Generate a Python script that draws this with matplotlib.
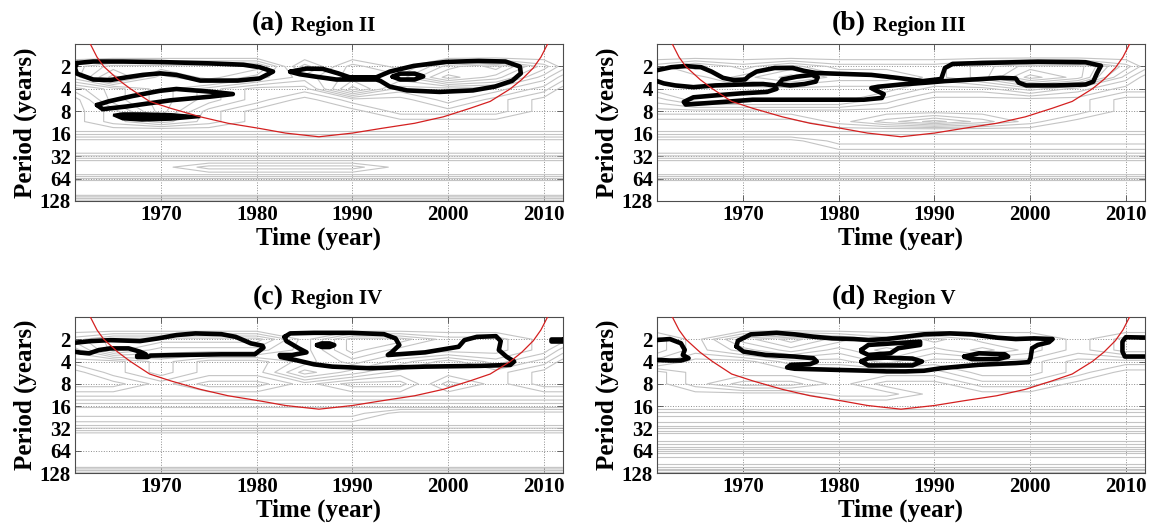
import numpy as np
import matplotlib.pyplot as plt

plt.rcParams['font.family'] = ['Liberation Serif', 'DejaVu Serif']
plt.rcParams['font.weight'] = 'bold'
plt.rcParams['axes.labelweight'] = 'bold'

# coarse grid of wavelet power
grid_year = [1961, 1965, 1970, 1975, 1980, 1985, 1990, 1995, 2000, 2005, 2010, 2012]
grid_period = [1, 1.5, 2, 2.8, 4, 5.6, 8, 11, 14, 17, 20, 28, 33, 38, 45, 55, 62, 70, 105, 115, 128]

power_a = [
    [5, 5, 5, 5, 5, 5, 5, 5, 5, 5, 5, 5],
    [5, 5, 5, 5, 5, 5, 5, 5, 5, 5, 5, 5],
    [6, 7, 7, 7, 7, 4, 6, 5, 7, 8, 6, 5],
    [6, 8, 6, 7, 6, 5, 6, 6, 8, 7, 5, 4],
    [4, 5, 6, 5, 4, 4, 7, 5, 5, 5, 4, 3],
    [3, 5, 6, 5, 4, 3, 4, 4, 5, 4, 3, 3],
    [3, 4, 6, 4, 3, 3, 3, 4, 4, 4, 3, 3],
    [3, 4, 5, 4, 3, 3, 3, 3, 3, 3, 3, 3],
    [3, 3, 3, 3, 3, 3, 3, 3, 3, 3, 3, 3],
    [2, 2, 2, 2, 2, 2, 2, 2, 2, 2, 2, 2],
    [1, 1, 1, 1, 1, 1, 1, 1, 1, 1, 1, 1],
    [1, 1, 1, 1, 1, 1, 1, 1, 1, 1, 1, 1],
    [2, 2, 2, 2, 2, 2, 2, 2, 2, 2, 2, 2],
    [1, 1, 1, 1, 1, 1, 1, 1, 1, 1, 1, 1],
    [1, 1, 1, 2, 2, 2, 2, 1, 1, 1, 1, 1],
    [1, 1, 1, 1, 1, 1, 1, 1, 1, 1, 1, 1],
    [2, 2, 2, 2, 2, 2, 2, 2, 2, 2, 2, 2],
    [1, 1, 1, 1, 1, 1, 1, 1, 1, 1, 1, 1],
    [1, 1, 1, 1, 1, 1, 1, 1, 1, 1, 1, 1],
    [2, 2, 2, 2, 2, 2, 2, 2, 2, 2, 2, 2],
    [1, 1, 1, 1, 1, 1, 1, 1, 1, 1, 1, 1],
]

power_b = [
    [5, 5, 5, 5, 5, 5, 5, 5, 5, 5, 5, 5],
    [5, 5, 5, 5, 5, 5, 5, 5, 5, 5, 5, 5],
    [6, 7, 6, 7, 6, 6, 6, 7, 8, 8, 6, 5],
    [6, 6, 7, 8, 7, 7, 6, 7, 9, 8, 5, 4],
    [6, 6, 6, 6, 6, 6, 5, 5, 6, 5, 4, 4],
    [5, 6, 6, 6, 6, 5, 4, 4, 4, 4, 3, 3],
    [4, 4, 4, 4, 4, 4, 4, 4, 4, 4, 3, 3],
    [3, 3, 3, 3, 4, 5, 6, 5, 4, 3, 3, 3],
    [3, 3, 3, 3, 3, 3, 3, 3, 3, 3, 3, 3],
    [2, 2, 2, 2, 2, 2, 2, 2, 2, 2, 2, 2],
    [1, 1, 1, 1, 2, 2, 2, 2, 2, 2, 2, 2],
    [1, 1, 1, 1, 1, 1, 1, 1, 1, 1, 1, 1],
    [2, 2, 2, 2, 2, 2, 2, 2, 2, 2, 2, 2],
    [1, 1, 1, 1, 1, 1, 1, 1, 1, 1, 1, 1],
    [1, 1, 1, 1, 1, 1, 1, 1, 1, 1, 1, 1],
    [1, 1, 1, 1, 1, 1, 1, 1, 1, 1, 1, 1],
    [2, 2, 2, 2, 2, 2, 2, 2, 2, 2, 2, 2],
    [1, 1, 1, 1, 1, 1, 1, 1, 1, 1, 1, 1],
    [1, 1, 1, 1, 1, 1, 1, 1, 1, 1, 1, 1],
    [1, 1, 1, 1, 1, 1, 1, 1, 1, 1, 1, 1],
    [1, 1, 1, 1, 1, 1, 1, 1, 1, 1, 1, 1],
]

power_c = [
    [5, 5, 5, 5, 5, 5, 5, 5, 5, 5, 5, 5],
    [5, 5, 5, 5, 5, 5, 5, 5, 5, 5, 5, 5],
    [6, 7, 7, 7, 7, 5, 7, 7, 6, 6, 5, 5],
    [5, 7, 6, 6, 6, 5, 7, 6, 6, 6, 5, 4],
    [4, 4, 5, 4, 4, 5, 6, 5, 4, 5, 4, 3],
    [3, 4, 5, 4, 4, 6, 5, 4, 4, 4, 3, 3],
    [3, 3, 4, 3, 3, 4, 3, 3, 5, 4, 3, 3],
    [4, 4, 4, 4, 4, 4, 4, 4, 4, 4, 4, 4],
    [3, 3, 3, 3, 3, 3, 3, 3, 3, 3, 3, 3],
    [2, 2, 2, 2, 2, 2, 2, 2, 2, 2, 2, 2],
    [2, 2, 2, 2, 2, 2, 2, 1, 1, 1, 1, 1],
    [1, 1, 1, 1, 1, 1, 1, 1, 1, 1, 1, 1],
    [2, 2, 2, 2, 2, 2, 2, 2, 2, 2, 2, 2],
    [1, 1, 1, 1, 1, 1, 1, 1, 1, 1, 1, 1],
    [1, 1, 1, 1, 1, 1, 1, 1, 1, 1, 1, 1],
    [1, 1, 1, 1, 1, 1, 1, 1, 1, 1, 1, 1],
    [1, 1, 1, 1, 1, 1, 1, 1, 1, 1, 1, 1],
    [1, 1, 1, 1, 1, 1, 1, 1, 1, 1, 1, 1],
    [1, 1, 1, 1, 1, 1, 1, 1, 1, 1, 1, 1],
    [2, 2, 2, 2, 2, 2, 2, 2, 2, 2, 2, 2],
    [1, 1, 1, 1, 1, 1, 1, 1, 1, 1, 1, 1],
]

power_d = [
    [5, 5, 5, 5, 5, 5, 5, 5, 5, 5, 5, 5],
    [5, 5, 5, 5, 5, 5, 5, 5, 5, 5, 5, 5],
    [6, 5, 7, 8, 7, 6, 7, 6, 6, 5, 6, 6],
    [6, 5, 6, 7, 6, 7, 6, 7, 6, 5, 6, 6],
    [5, 4, 4, 5, 5, 6, 5, 5, 5, 4, 4, 4],
    [3, 4, 4, 4, 4, 4, 4, 5, 5, 4, 3, 3],
    [3, 4, 5, 5, 4, 3, 3, 4, 4, 3, 3, 3],
    [3, 3, 3, 3, 4, 4, 3, 3, 3, 3, 3, 3],
    [3, 3, 3, 3, 3, 3, 3, 3, 3, 3, 3, 3],
    [3, 3, 3, 3, 3, 3, 3, 3, 3, 3, 3, 3],
    [2, 2, 2, 2, 2, 2, 2, 2, 2, 2, 2, 2],
    [1, 1, 1, 1, 1, 1, 1, 1, 1, 1, 1, 1],
    [2, 2, 2, 2, 2, 2, 2, 2, 2, 2, 2, 2],
    [1, 1, 1, 1, 1, 1, 1, 1, 1, 1, 1, 1],
    [1, 1, 1, 1, 1, 1, 1, 1, 1, 1, 1, 1],
    [2, 2, 2, 2, 2, 2, 2, 2, 2, 2, 2, 2],
    [1, 1, 1, 1, 1, 1, 1, 1, 1, 1, 1, 1],
    [2, 2, 2, 2, 2, 2, 2, 2, 2, 2, 2, 2],
    [1, 1, 1, 1, 1, 1, 1, 1, 1, 1, 1, 1],
    [2, 2, 2, 2, 2, 2, 2, 2, 2, 2, 2, 2],
    [1, 1, 1, 1, 1, 1, 1, 1, 1, 1, 1, 1],
]

# cone of influence (same for every region)
coi_year = [1962.6, 1963.3, 1964.0, 1965.5, 1966.8, 1968.8, 1971.0, 1974.1, 1977.0, 1980.3,
            1983.0, 1986.5, 1990.0, 1993.0, 1996.5, 1999.5, 2002.3, 2004.4, 2006.5, 2007.7,
            2008.9, 2009.7, 2010.4]
coi_period = [1.0, 1.5, 2.0, 3.0, 4.0, 5.9, 7.3, 9.5, 11.6, 13.6,
              15.7, 17.6, 15.7, 13.6, 11.6, 9.5, 7.3, 5.9, 4.0, 3.0,
              2.1, 1.5, 1.0]

# 95% significance outlines, (year, period)
a1_year = [1961.2, 1962.9, 1966.0, 1970.0, 1975.0, 1978.6, 1980.3, 1981.7, 1980.3, 1978.0,
           1974.1, 1971.6, 1969.9, 1968.1, 1966.4, 1964.7, 1962.9, 1961.2, 1961.0]
a1_period = [1.8, 1.72, 1.72, 1.75, 1.82, 1.9, 2.05, 2.35, 2.9, 3.1,
             3.1, 2.6, 2.48, 2.6, 2.8, 3.05, 3.0, 2.5, 2.1]
a2_year = [1963.3, 1964.5, 1967.0, 1969.9, 1971.6, 1975.1, 1977.5, 1975.1, 1971.0, 1966.4, 1963.9]
a2_period = [6.6, 5.9, 5.0, 4.25, 4.02, 4.36, 4.7, 5.1, 5.7, 6.9, 7.5]
a3_year = [1965.0, 1966.0, 1968.0, 1971.0, 1974.1, 1971.0, 1968.0, 1966.0]
a3_period = [9.0, 8.6, 8.6, 8.8, 9.5, 10.3, 10.6, 10.2]
a4_year = [1983.5, 1985.2, 1986.9, 1988.5, 1989.7, 1992.5, 1993.9, 1996.4, 1999.8, 2003.2,
           2006.0, 2007.5, 2007.6, 2006.7, 2004.9, 2002.6, 1999.1, 1995.7, 1993.9, 1992.9,
           1992.5, 1989.7, 1988.3, 1986.2, 1984.5]
a4_period = [2.36, 2.14, 2.16, 2.48, 2.8, 2.8, 2.35, 1.97, 1.74, 1.69,
             1.72, 2.01, 2.48, 3.12, 3.73, 4.2, 4.4, 4.2, 3.73, 3.12,
             3.0, 3.0, 3.0, 2.75, 2.55]
a5_year = [1994.2, 1995.0, 1996.5, 1997.4, 1996.5, 1995.0]
a5_period = [2.75, 2.5, 2.5, 2.72, 3.0, 3.0]

b1_year = [1961.0, 1962.5, 1964.0, 1965.6, 1966.7, 1967.9, 1969.0, 1970.2, 1970.6, 1971.4,
           1973.3, 1975.2, 1976.4, 1977.6, 1979.5, 1983.4, 1986.1, 1988.8, 1990.7, 1991.1,
           1991.9, 1995.0, 2000.8, 2005.8, 2007.4, 2007.0, 2006.6, 2005.8, 2002.7, 1999.6,
           1998.8, 1998.5, 1996.9, 1995.0, 1991.1, 1989.2, 1986.5, 1984.1, 1983.4, 1983.8,
           1984.7, 1984.5, 1982.6, 1979.5, 1975.6, 1971.0, 1968.7, 1965.6, 1964.0, 1963.8,
           1964.8, 1967.1, 1969.8, 1972.5, 1973.5, 1973.3, 1972.1, 1969.8, 1967.1, 1964.8,
           1962.9, 1961.7, 1961.0]
b1_period = [2.25, 2.05, 1.98, 2.05, 2.35, 2.85, 3.05, 3.0, 2.7, 2.35,
             2.1, 2.1, 2.3, 2.45, 2.5, 2.6, 2.85, 3.15, 2.95, 2.1,
             1.85, 1.8, 1.73, 1.76, 1.96, 2.45, 3.2, 3.5, 3.6, 3.6,
             3.3, 2.9, 2.85, 2.95, 3.15, 3.3, 3.5, 3.75, 3.9, 4.16,
             4.7, 5.3, 5.6, 5.6, 5.6, 5.6, 5.9, 6.3, 6.5, 6.0,
             5.2, 4.9, 4.6, 4.4, 4.0, 3.6, 3.45, 3.5, 3.6, 3.8,
             3.6, 3.38, 3.15]
b2_year = [1973.7, 1974.1, 1975.6, 1977.2, 1977.8, 1977.6, 1976.4, 1974.9]
b2_period = [3.45, 3.0, 2.75, 2.6, 2.8, 3.2, 3.45, 3.6]

c1_year = [1961.0, 1962.7, 1964.7, 1967.8, 1969.7, 1971.6, 1973.6, 1976.3, 1977.8, 1979.4,
           1980.6, 1980.7, 1980.0, 1979.8, 1976.3, 1971.6, 1968.9, 1968.6, 1967.5, 1967.5,
           1968.4, 1967.8, 1966.6, 1964.7, 1963.5, 1962.5, 1961.6, 1961.0]
c1_period = [2.23, 2.12, 2.06, 2.12, 1.95, 1.76, 1.67, 1.71, 1.86, 2.28,
             2.45, 2.6, 3.05, 3.2, 3.2, 3.27, 3.33, 3.48, 3.48, 3.33,
             3.2, 2.95, 2.66, 2.66, 2.8, 3.1, 3.04, 2.95]
c2_year = [1982.9, 1983.5, 1986.0, 1989.8, 1993.3, 1994.5, 1994.9, 1994.1, 1993.7, 1997.6,
           2001.1, 2001.7, 2003.0, 2005.0, 2005.5, 2005.3, 2006.1, 2006.9, 2006.5, 2003.4,
           1997.6, 1991.8, 1987.9, 1986.0, 1984.0, 1982.5, 1982.4, 1983.7, 1985.2, 1984.4,
           1983.7, 1983.1]
c2_period = [1.86, 1.67, 1.64, 1.64, 1.71, 1.95, 2.4, 3.01, 3.27, 3.01,
             2.53, 2.06, 1.86, 1.82, 2.12, 2.8, 3.44, 4.0, 4.45, 4.58,
             4.69, 4.93, 4.69, 4.37, 3.81, 3.48, 3.27, 3.27, 3.01, 2.66,
             2.35, 2.12]
c3_year = [1986.3, 1986.8, 1987.6, 1988.1, 1987.6, 1986.8]
c3_period = [2.4, 2.28, 2.28, 2.4, 2.55, 2.55]
c4_year = [2012.0, 2010.8, 2010.8, 2012.0]
c4_period = [1.98, 1.98, 2.12, 2.12]

d1_year = [1961.0, 1962.35, 1963.5, 1963.9, 1963.7, 1964.3, 1963.5, 1962.35, 1961.0]
d1_period = [2.05, 1.99, 2.27, 2.79, 3.26, 3.61, 3.88, 3.88, 3.8]
d2_year = [2012.0, 2010.0, 2009.65, 2009.65, 2009.9, 2012.0]
d2_period = [1.9, 1.88, 2.16, 2.94, 3.43, 3.43]
d3_year = [1969.3, 1969.46, 1970.8, 1973.5, 1975.4, 1977.35, 1979.3, 1981.6, 1983.1, 1985.0,
           1987.0, 1988.9, 1991.6, 1993.9, 1996.6, 1998.5, 2000.4, 2002.35, 2001.96, 2000.8,
           2000.2, 2000.04, 1999.85, 1998.5, 1994.65, 1990.8, 1988.9, 1987.0, 1985.0, 1983.1,
           1979.3, 1975.4, 1974.6, 1975.0, 1977.0, 1977.7, 1977.35, 1975.4, 1972.35, 1970.04]
d3_period = [2.5, 2.1, 1.72, 1.64, 1.72, 1.85, 1.95, 1.99, 2.05, 1.99,
             1.85, 1.72, 1.67, 1.72, 1.91, 1.99, 1.95, 1.99, 2.2, 2.39,
             2.65, 3.61, 4.08, 4.2, 4.43, 4.91, 5.33, 5.44, 5.44, 5.33,
             5.17, 5.01, 4.81, 4.43, 4.34, 4.0, 3.61, 3.43, 3.26, 2.94]
d4_year = [1982.35, 1983.1, 1985.8, 1988.5, 1988.5, 1986.2, 1985.4, 1983.1, 1982.35]
d4_period = [2.79, 2.39, 2.27, 2.16, 2.39, 2.65, 3.1, 3.26, 2.94]
d5_year = [1982.35, 1983.1, 1985.0, 1987.7, 1988.7, 1987.7, 1983.1]
d5_period = [4.0, 3.61, 3.55, 3.65, 4.0, 4.52, 4.52]
d6_year = [1993.1, 1994.65, 1997.35, 1997.7, 1996.6, 1993.9]
d6_period = [3.43, 3.1, 3.19, 3.43, 3.72, 3.72]

x_ticks = [1970, 1980, 1990, 2000, 2010]
y_ticks = [2, 4, 8, 16, 32, 64, 128]

# (tag, region, power, closed outlines, open outlines, filled outlines)
panels = [
    ("(a)", "Region II", power_a,
     [(a1_year, a1_period), (a2_year, a2_period), (a4_year, a4_period), (a5_year, a5_period)],
     [], [(a3_year, a3_period)]),
    ("(b)", "Region III", power_b,
     [(b2_year, b2_period)], [(b1_year, b1_period)], []),
    ("(c)", "Region IV", power_c,
     [(c2_year, c2_period), (c3_year, c3_period), (c4_year, c4_period)], [(c1_year, c1_period)], []),
    ("(d)", "Region V", power_d,
     [(d3_year, d3_period), (d4_year, d4_period), (d5_year, d5_period), (d6_year, d6_period)],
     [(d1_year, d1_period), (d2_year, d2_period)], []),
]

positions = [
    [0.0652, 0.6215, 0.4243, 0.2957],
    [0.5713, 0.6215, 0.4243, 0.2957],
    [0.0652, 0.1092, 0.4243, 0.2940],
    [0.5713, 0.1092, 0.4243, 0.2940],
]

fig = plt.figure(figsize=(11.5, 5.31), dpi=100)

for (tag, region, power, closed, opened, filled), pos in zip(panels, positions):
    ax = fig.add_axes(pos)
    ax.set_yscale('log', base=2)

    ax.contour(grid_year, grid_period, np.array(power, dtype=float),
               levels=np.arange(0.25, 10, 0.5), colors='#c4c4c4', linewidths=0.8)

    for yr, per in closed:
        ax.plot(list(yr) + [yr[0]], list(per) + [per[0]], color='k', lw=3.3,
                solid_joinstyle='round', solid_capstyle='round', zorder=3)
    for yr, per in opened:
        ax.plot(yr, per, color='k', lw=3.3, solid_joinstyle='round',
                solid_capstyle='round', zorder=3)
    for yr, per in filled:
        ax.fill(yr, per, facecolor='k', edgecolor='k', lw=2.0, zorder=3)

    ax.plot(coi_year, coi_period, color='#d42020', lw=0.9, zorder=4)

    ax.set_xlim(1961, 2012)
    ax.set_ylim(128, 1)
    ax.set_xticks(x_ticks)
    ax.set_yticks(y_ticks)
    ax.set_yticklabels([str(v) for v in y_ticks])
    ax.minorticks_off()
    ax.tick_params(direction='in', top=True, right=True, labelsize=15, length=4,
                   width=0.6, color='0.3', pad=3)
    ax.grid(True, linestyle=':', color='0.55', lw=0.7)
    for s in ax.spines.values():
        s.set_color('0.3')
        s.set_linewidth(0.8)

    ax.set_xlabel('Time (year)', fontsize=18, labelpad=1)
    ax.set_ylabel('Period (years)', fontsize=18, labelpad=2)

    ax.text(0.428, 1.085, tag, transform=ax.transAxes, ha='right', va='baseline', fontsize=20)
    ax.text(0.442, 1.085, region, transform=ax.transAxes, ha='left', va='baseline', fontsize=15)

fig.savefig('out.png', dpi=100)
